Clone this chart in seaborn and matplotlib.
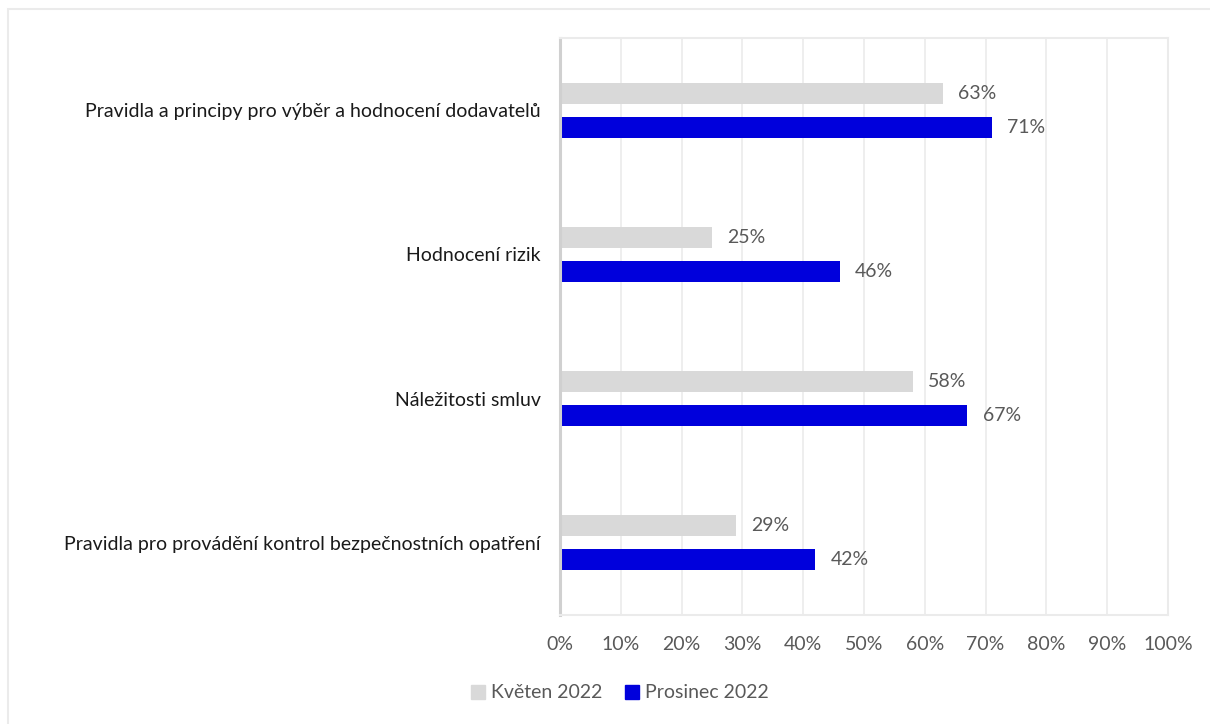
import matplotlib
matplotlib.use("Agg")
import matplotlib.pyplot as plt
import matplotlib.patches as mpatches
from matplotlib.ticker import FuncFormatter
import seaborn as sns
import pandas as pd

categories = [
    "Pravidla a principy pro výběr a hodnocení dodavatelů",
    "Hodnocení rizik",
    "Náležitosti smluv",
    "Pravidla pro provádění kontrol bezpečnostních opatření",
]
series_names = ["Květen 2022", "Prosinec 2022"]
kveten = [63, 25, 58, 29]
prosinec = [71, 46, 67, 42]
x_ticks = [0, 10, 20, 30, 40, 50, 60, 70, 80, 90, 100]

colors = {"Květen 2022": "#D9D9D9", "Prosinec 2022": "#0000DC"}
text_color = "#595959"
font_size = 14

df = pd.DataFrame({
    "kategorie": categories * 2,
    "obdobi": [series_names[0]] * len(categories) + [series_names[1]] * len(categories),
    "hodnota": kveten + prosinec,
})

sns.set_theme(style="white")
plt.rcParams["font.family"] = ["Lato", "DejaVu Sans"]

fig = plt.figure(figsize=(12.10, 7.24), dpi=100)
ax = fig.add_axes([560 / 1210, 1 - 615 / 724, (1168 - 560) / 1210, (615 - 38) / 724])

sns.barplot(
    data=df, y="kategorie", x="hodnota", hue="obdobi",
    order=categories, hue_order=series_names, palette=colors,
    orient="h", width=0.47, gap=0.38, ax=ax, legend=False,
    saturation=1, linewidth=0,
)

ax.set_xlim(0, 100)
ax.set_ylim(len(categories) - 0.5, -0.5)
ax.set_xticks(x_ticks)
ax.xaxis.set_major_formatter(FuncFormatter(lambda v, p: f"{v:.0f}%"))
ax.grid(axis="x", color="#EBEBEB", linewidth=1.2)
ax.set_axisbelow(True)
ax.set_xlabel("")
ax.set_ylabel("")

for side in ["top", "right", "bottom"]:
    ax.spines[side].set_color("#EBEBEB")
    ax.spines[side].set_linewidth(1.5)
ax.spines["left"].set_color("#D0D0D0")
ax.spines["left"].set_linewidth(2.2)

ax.tick_params(axis="x", labelsize=font_size, length=0, pad=15)
ax.tick_params(axis="y", labelsize=font_size, length=0, pad=14)
for lbl in ax.get_xticklabels():
    lbl.set_color(text_color)
for lbl in ax.get_yticklabels():
    lbl.set_color("#1a1a1a")

for container in ax.containers:
    ax.bar_label(container, labels=[f"{v:.0f}%" for v in container.datavalues],
                 padding=11, color=text_color, fontsize=font_size)

handles = [mpatches.Patch(color=colors[n], label=n) for n in series_names]
fig.legend(handles=handles, loc="center", bbox_to_anchor=(620 / 1210, 1 - 693 / 724),
           ncol=2, frameon=False, fontsize=font_size, handlelength=0.7, handleheight=0.7,
           handletextpad=0.3, columnspacing=1.2, labelcolor=text_color)

fig.patches.append(mpatches.Rectangle(
    (8 / 1210, -0.05), 1.1, 1 - 9 / 724 + 0.05, transform=fig.transFigure,
    fill=False, edgecolor="#EBEBEB", linewidth=1.5))

fig.savefig("out.png", dpi=100, facecolor="white")
